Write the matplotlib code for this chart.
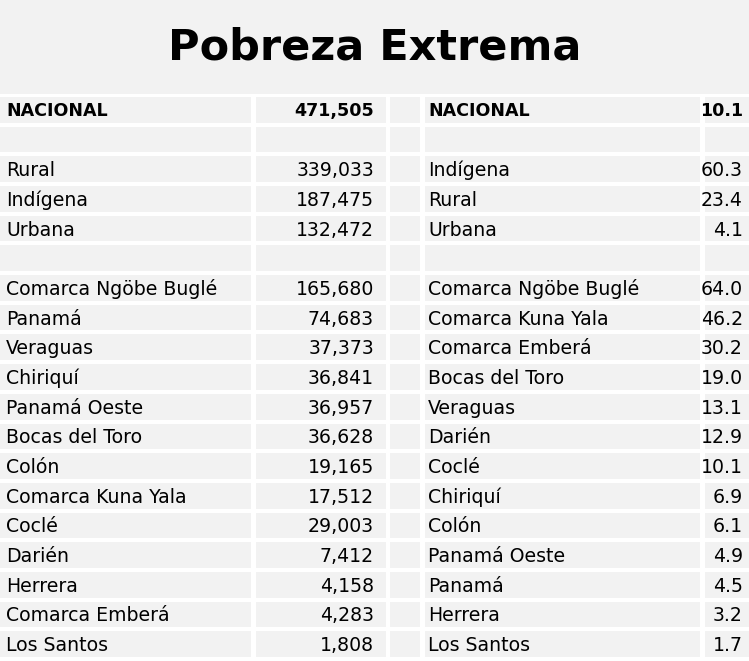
import matplotlib
matplotlib.use("Agg")
import matplotlib.pyplot as plt
from matplotlib.patches import Rectangle

title = "Pobreza Extrema"
left_labels = ["NACIONAL", "", "Rural", "Indígena", "Urbana", "",
               "Comarca Ngöbe Buglé", "Panamá", "Veraguas", "Chiriquí", "Panamá Oeste",
               "Bocas del Toro", "Colón", "Comarca Kuna Yala", "Coclé", "Darién",
               "Herrera", "Comarca Emberá", "Los Santos"]
left_values = [471505, None, 339033, 187475, 132472, None,
               165680, 74683, 37373, 36841, 36957, 36628, 19165, 17512, 29003,
               7412, 4158, 4283, 1808]
right_labels = ["NACIONAL", "", "Indígena", "Rural", "Urbana", "",
                "Comarca Ngöbe Buglé", "Comarca Kuna Yala", "Comarca Emberá", "Bocas del Toro",
                "Veraguas", "Darién", "Coclé", "Chiriquí", "Colón", "Panamá Oeste",
                "Panamá", "Herrera", "Los Santos"]
right_values = [10.1, None, 60.3, 23.4, 4.1, None,
                64.0, 46.2, 30.2, 19.0, 13.1, 12.9, 10.1, 6.9, 6.1, 4.9, 4.5, 3.2, 1.7]

W, H = 749, 661
fig = plt.figure(figsize=(W / 100, H / 100), dpi=100)
ax = fig.add_axes([0, 0, 1, 1])
ax.set_xlim(0, W)
ax.set_ylim(H, 0)
ax.axis("off")
bg = "#f2f2f2"

ax.add_patch(Rectangle((0, 0), W, 94, color=bg, lw=0))
ax.text(W / 2, 48, title, ha="center", va="center", fontsize=31, fontweight="heavy",
        family="DejaVu Sans")

cols = [(0, 251), (256, 386), (390, 420), (425, 700), (705, W)]
top = 97
pitch = (H - top) / len(left_labels)
for i in range(len(left_labels)):
    y0 = top + i * pitch
    for x0, x1 in cols:
        ax.add_patch(Rectangle((x0, y0), x1 - x0, pitch - 4, color=bg, lw=0))
    yc = y0 + (pitch - 4) / 2 + 1.5
    bold = i == 0
    kw = dict(va="center", fontsize=13.6 if not bold else 12.6,
              fontweight="bold" if bold else "normal", family="DejaVu Sans")
    ax.text(6, yc, left_labels[i], ha="left", **kw)
    ax.text(428, yc, right_labels[i], ha="left", **kw)
    if left_values[i] is not None:
        ax.text(374, yc, f"{left_values[i]:,}", ha="right", **kw)
    if right_values[i] is not None:
        ax.text(743, yc, f"{right_values[i]:.1f}", ha="right", **kw)

fig.savefig("out.png", dpi=100)
